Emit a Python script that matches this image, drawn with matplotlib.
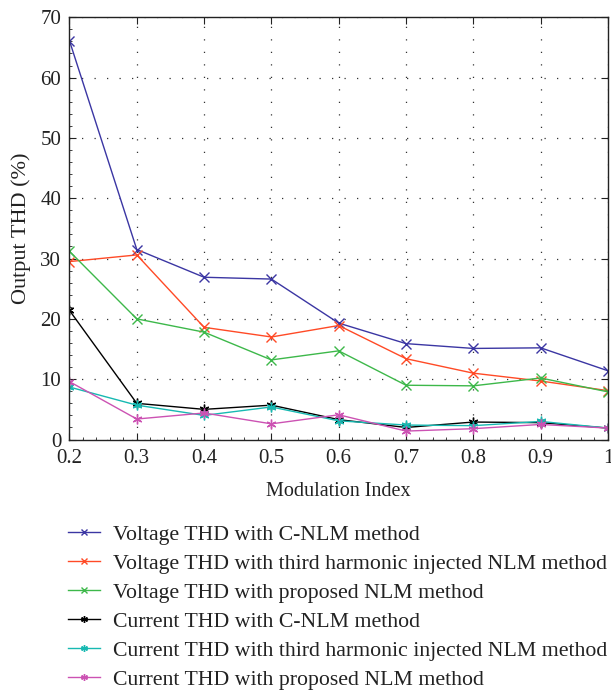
import matplotlib
matplotlib.use("Agg")
import matplotlib.pyplot as plt
from matplotlib.ticker import MultipleLocator

plt.rcParams['font.family'] = ['Liberation Serif', 'DejaVu Serif']

modulation_index = [0.2, 0.3, 0.4, 0.5, 0.6, 0.7, 0.8, 0.9, 1.0]

v_cnlm = [66.1, 31.5, 26.9, 26.6, 19.3, 15.9, 15.1, 15.2, 11.4]
v_third = [29.5, 30.6, 18.6, 17.0, 18.9, 13.4, 11.0, 9.7, 8.1]
v_proposed = [31.2, 20.0, 17.8, 13.2, 14.7, 9.0, 8.9, 10.2, 7.9]
i_cnlm = [21.4, 6.0, 5.0, 5.7, 3.3, 2.0, 2.9, 2.8, 1.9]
i_third = [8.7, 5.7, 4.0, 5.4, 3.1, 2.4, 2.3, 3.0, 1.9]
i_proposed = [9.6, 3.4, 4.4, 2.6, 4.1, 1.4, 1.8, 2.5, 1.9]

x_tick_labels = ["0.2", "0.3", "0.4", "0.5", "0.6", "0.7", "0.8", "0.9", "1"]
labels = [
    "Voltage THD with C-NLM method",
    "Voltage THD with third harmonic injected NLM method",
    "Voltage THD with proposed NLM method",
    "Current THD with C-NLM method",
    "Current THD with third harmonic injected NLM method",
    "Current THD with proposed NLM method",
]
colors = ["#3b36a3", "#ff4a26", "#3db84a", "#000000", "#17b9b2", "#cc52b3"]
markers = ["x", "x", "x", (6, 2, 0), (6, 2, 0), (6, 2, 0)]
series = [v_cnlm, v_third, v_proposed, i_cnlm, i_third, i_proposed]

text_color = '#222222'

fig = plt.figure(figsize=(6.11, 6.9), dpi=100)
ax = fig.add_axes([0.1137, 0.363, 0.8813, 0.612])

for y, c, m, lab in zip(series, colors, markers, labels):
    ax.plot(modulation_index, y, color=c, marker=m, markersize=7,
            markeredgewidth=1.0, linewidth=1.0, label=lab)

ax.set_xlim(0.2, 1.0)
ax.set_ylim(0, 70)
ax.set_xticks(modulation_index)
ax.set_xticklabels(x_tick_labels)
ax.set_yticks(range(0, 71, 10))
ax.xaxis.set_minor_locator(MultipleLocator(0.02))
ax.yaxis.set_minor_locator(MultipleLocator(2))

ax.grid(True, which='major', color='#333333', linestyle=(0, (1, 9)), linewidth=0.9)
ax.tick_params(which='both', direction='in', top=True, right=True,
               labelsize=15, colors=text_color)
ax.tick_params(which='major', length=5, width=0.8)
ax.tick_params(axis='x', which='major', pad=7)
ax.tick_params(axis='y', which='major', pad=6)
ax.tick_params(which='minor', length=2.5, width=0.6, top=False, right=False)
for s in ax.spines.values():
    s.set_linewidth(1.0)
    s.set_color(text_color)

ax.set_xlabel("Modulation Index", fontsize=14.5, color=text_color, labelpad=10)
ax.set_ylabel("Output THD (%)", fontsize=16, color=text_color, labelpad=7)

leg = fig.legend(loc='upper left', bbox_to_anchor=(0.111, 0.240), frameon=False,
                 fontsize=15.7, handlelength=1.47, handletextpad=0.6,
                 labelspacing=0.4, markerscale=0.7, borderaxespad=0, borderpad=0)
for t in leg.get_texts():
    t.set_color(text_color)

fig.savefig("out.png", dpi=100)
